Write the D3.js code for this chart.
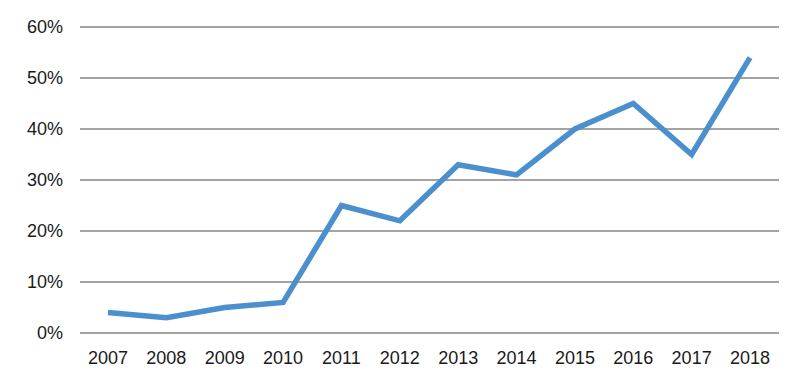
<!DOCTYPE html>
<html>
<head>
<meta charset="utf-8">
<script src="https://cdn.jsdelivr.net/npm/d3@7"></script>
<style>
  body { margin: 0; background: #fff; }
  text { font-family: "Liberation Sans", Arial, Helvetica, sans-serif; fill: #1a1a1a; }
</style>
</head>
<body>
<svg id="chart" width="800" height="376"></svg>
<script>
// chart values
var years = ["2007", "2008", "2009", "2010", "2011", "2012", "2013", "2014", "2015", "2016", "2017", "2018"];
var shares = [4, 3, 5, 6, 25, 22, 33, 31, 40, 45, 35, 54];
var yTicks = [0, 10, 20, 30, 40, 50, 60];

var data = years.map(function(y, i) { return {year: y, value: shares[i]}; });

var svg = d3.select("svg#chart");

// set the ranges
var x = d3.scalePoint().domain(years).range([108, 750]);
var y = d3.scaleLinear().domain([0, 60]).range([333, 27]);

var gridLeft = 80, gridRight = 779;

// horizontal gridlines
svg.append("g")
  .selectAll("line")
  .data(yTicks)
  .enter().append("line")
  .attr("x1", gridLeft)
  .attr("x2", gridRight)
  .attr("y1", function(d) { return y(d); })
  .attr("y2", function(d) { return y(d); })
  .attr("stroke", "#858585")
  .attr("stroke-width", 1.6);

// y labels
svg.append("g")
  .selectAll("text")
  .data(yTicks)
  .enter().append("text")
  .attr("x", 63)
  .attr("y", function(d) { return y(d); })
  .attr("dy", "0.35em")
  .attr("text-anchor", "end")
  .style("font-size", "18px")
  .text(function(d) { return d + "%"; });

// x labels
svg.append("g")
  .selectAll("text")
  .data(years)
  .enter().append("text")
  .attr("x", function(d) { return x(d); })
  .attr("y", 364)
  .attr("text-anchor", "middle")
  .style("font-size", "18px")
  .text(function(d) { return d; });

// the line
var valueline = d3.line()
  .x(function(d) { return x(d.year); })
  .y(function(d) { return y(d.value); });

svg.append("path")
  .datum(data)
  .attr("d", valueline)
  .attr("fill", "none")
  .attr("stroke", "#4b8fcf")
  .attr("stroke-width", 5.5)
  .attr("stroke-linejoin", "miter")
  .attr("stroke-linecap", "butt");
</script>
</body>
</html>
